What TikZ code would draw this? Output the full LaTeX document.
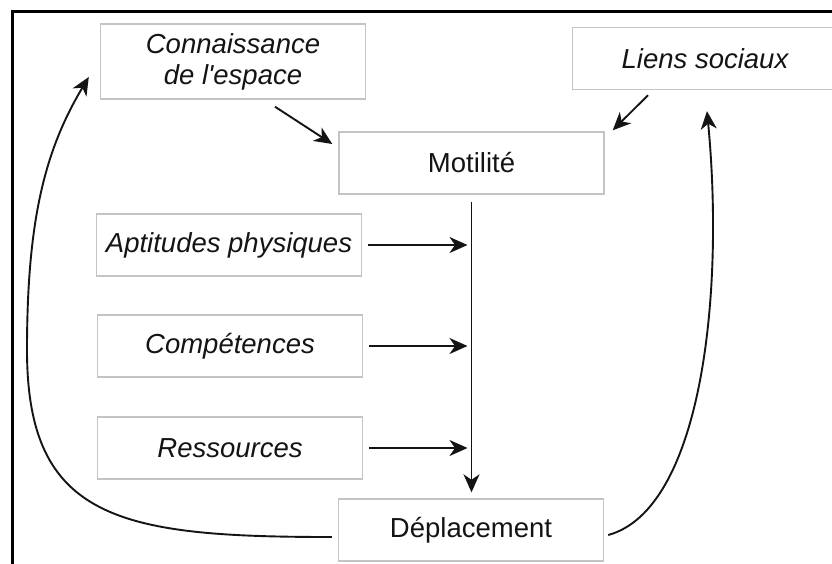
\documentclass[tikz,border=0pt]{standalone}
\usepackage{fontspec}
\setmainfont{Liberation Sans}
\usetikzlibrary{arrows.meta,calc}
\definecolor{boxgray}{HTML}{C4C4C4}
\definecolor{inkc}{HTML}{141414}
\begin{document}
\begin{tikzpicture}[x=1pt,y=-1pt,
  box/.style={draw=boxgray,line width=1.4pt,fill=white,minimum width=265pt,minimum height=62pt,inner sep=0pt,font=\fontsize{27.5}{31}\selectfont,text=inkc,align=center},
  it/.style={font=\fontsize{27.5}{31}\selectfont\itshape},
  link/.style={draw=inkc,line width=1.9pt,-{Stealth[length=18pt,width=16pt,inset=5.5pt]}},
  frame/.style={draw=black,line width=3pt}
]
\useasboundingbox (0,0) rectangle (832,563);
\clip (0,0) rectangle (832,563);
\fill[white] (0,0) rectangle (832,563);
\draw[frame] (12.5,600) -- (12.5,11.5) -- (900,11.5);

\node[box,it,minimum height=75pt] (know) at (233,61.5) {Connaissance\\de l\textquotesingle espace};
\node[box] (mot) at (471.5,163) {Motilité};
\node[box,it] (liens) at (705,58.5) {Liens sociaux};
\node[box,it] (apt) at (229,245) {Aptitudes physiques};
\node[box,it] (comp) at (230,346) {Compétences};
\node[box,it] (res) at (230,448) {Ressources};
\node[box] (dep) at (471,530) {Déplacement};

\draw[link,shorten <=7pt,shorten >=6pt] (mot.south) -- (mot.south |- dep.north);
\draw[link,shorten <=6pt,shorten >=4pt] (apt.east) -- (apt.east -| mot.south);
\draw[link,shorten <=6pt,shorten >=4pt] (comp.east) -- (comp.east -| mot.south);
\draw[link,shorten <=6pt,shorten >=4pt] (res.east) -- (res.east -| mot.south);

\draw[link] ($(know.south)+(42,7)$) -- ($(mot.west)+(-6,-19)$);
\draw[link] ($(liens.south)+(-57,5)$) -- ($(mot.north east)+(8,-1)$);

\draw[link] ($(dep.west)+(-6,7)$) .. controls (120,537) and (27,520) .. (27,350)
  .. controls (27,220) and (45,150) .. ($(know.west)+(-11,15.5)$);
\draw[link] ($(dep.east)+(4,5)$) .. controls (700,510) and (725,300) .. ($(liens.south)+(2,21)$);
\end{tikzpicture}
\end{document}
